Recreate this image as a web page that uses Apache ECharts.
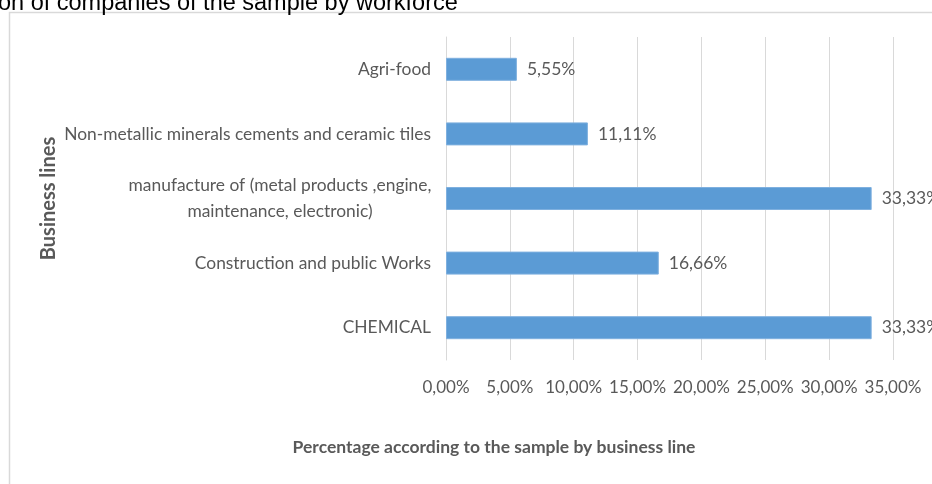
<!DOCTYPE html>
<html>
<head>
<meta charset="utf-8">
<script src="https://cdn.jsdelivr.net/npm/echarts@6/dist/echarts.min.js"></script>
<style>
  html, body { margin: 0; padding: 0; background: #fff; }
  #chart { width: 932px; height: 484px; }
</style>
</head>
<body>
<div id="chart"></div>
<script>
// business lines, top to bottom
const categories = [
  'Agri-food',
  'Non-metallic minerals cements and ceramic tiles',
  'manufacture of (metal products ,engine,\nmaintenance, electronic)',
  'Construction and public Works',
  'CHEMICAL'
]
// share of the sample, in percent
const shares = [5.55, 11.11, 33.33, 16.66, 33.33]
const xTicks = { min: 0, max: 35, step: 5 }

const FONT = 'Lato, "Liberation Sans", Arial, sans-serif'
const GREY = '#595959'
const pct = (v) => v.toFixed(2).replace('.', ',') + '%'

const chart = echarts.init(document.getElementById('chart'))
chart.setOption({
  animation: false,
  grid: { left: 446, right: 39, top: 37, bottom: 124 },
  xAxis: {
    type: 'value',
    min: xTicks.min,
    max: xTicks.max,
    interval: xTicks.step,
    axisLine: { show: false },
    axisTick: { show: false },
    splitLine: { lineStyle: { color: '#d9d9d9' } },
    axisLabel: {
      color: GREY,
      fontFamily: FONT,
      fontSize: 17,
      margin: 19,
      hideOverlap: false,
      formatter: (v) => pct(v)
    }
  },
  yAxis: {
    type: 'category',
    inverse: true,
    data: categories,
    name: 'Business lines',
    nameLocation: 'middle',
    nameRotate: 90,
    nameGap: 387,
    nameMoveOverlap: false,
    nameTextStyle: { color: GREY, fontFamily: FONT, fontSize: 20, fontWeight: 'bold' },
    axisLine: { lineStyle: { color: '#d9d9d9' } },
    axisTick: { length: 5, lineStyle: { color: '#d9d9d9' } },
    axisLabel: {
      color: GREY,
      fontFamily: FONT,
      fontSize: 17.4,
      margin: 15,
      formatter: (v) => (v.indexOf('\n') > -1 ? '{wrap|' + v + '}' : v),
      rich: {
        wrap: { width: 302, align: 'center', color: GREY, fontFamily: FONT, fontSize: 17.4, lineHeight: 26 }
      }
    }
  },
  series: [
    {
      type: 'bar',
      data: shares,
      barWidth: 23,
      itemStyle: { color: '#5b9bd5', borderColor: '#7fb0df', borderWidth: 1 },
      label: {
        show: true,
        position: 'right',
        distance: 10,
        color: GREY,
        fontFamily: FONT,
        fontSize: 17.5,
        formatter: (p) => pct(p.value)
      }
    }
  ],
  graphic: [
    // chart frame, cut off at the right and bottom
    {
      type: 'rect',
      shape: { x: 9.5, y: 12.5, width: 1000, height: 1000 },
      style: { fill: null, stroke: '#d9d9d9', lineWidth: 1.5 },
      silent: true
    },
    // page caption above the chart, partly cropped
    {
      type: 'text',
      x: -2,
      y: 4,
      style: {
        text: 'on of companies of the sample by workforce',
        font: '23.5px "Liberation Sans", Arial, sans-serif',
        fill: '#000',
        align: 'left',
        verticalAlign: 'middle'
      }
    },
    // x axis title, centred on the whole chart area
    {
      type: 'text',
      x: 494,
      y: 447,
      style: {
        text: 'Percentage according to the sample by business line',
        font: 'bold 17.5px ' + FONT,
        fill: GREY,
        align: 'center',
        verticalAlign: 'middle'
      }
    }
  ]
})
</script>
</body>
</html>
